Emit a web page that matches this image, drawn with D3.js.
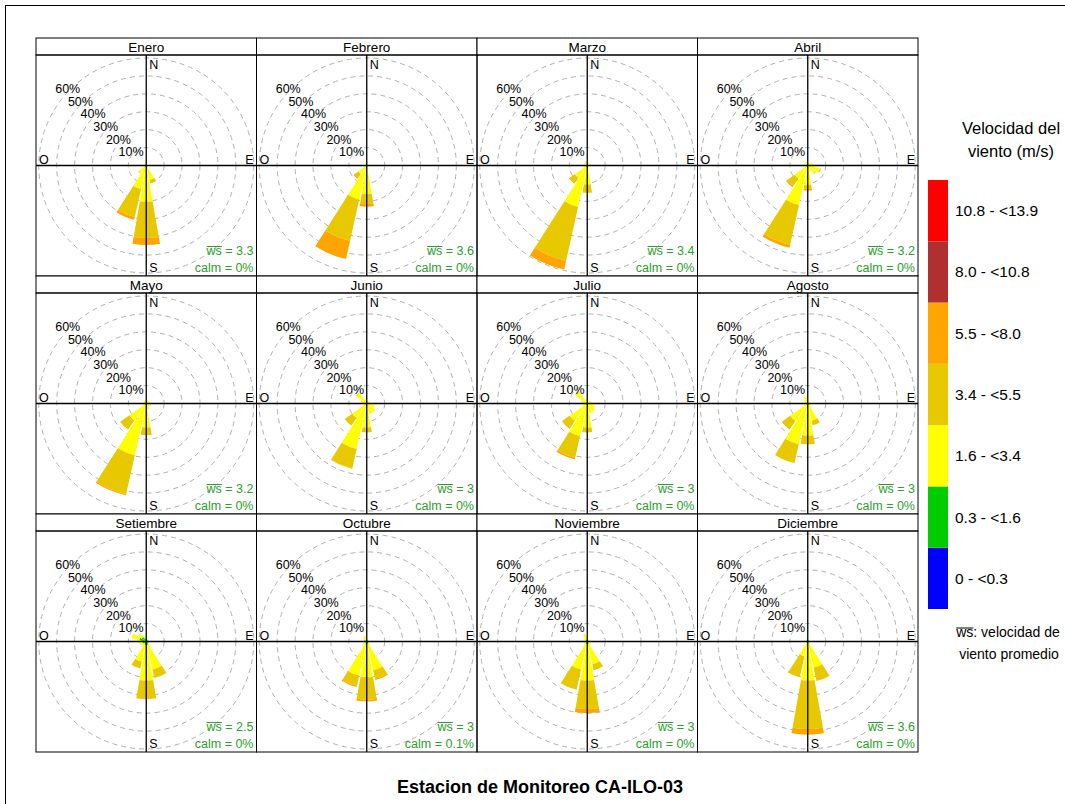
<!DOCTYPE html>
<html>
<head>
<meta charset="utf-8">
<style>
  body { margin: 0; background: #fff; }
  svg text { font-family: "Liberation Sans", Arial, sans-serif; }
</style>
<script src="https://d3js.org/d3.v7.min.js"></script>
</head>
<body>
<script>
const months = ["Enero", "Febrero", "Marzo", "Abril", "Mayo", "Junio",
                "Julio", "Agosto", "Setiembre", "Octubre", "Noviembre", "Diciembre"];
const directions = ["N","NNE","NE","ENE","E","ESE","SE","SSE","S","SSW","SW","WSW","W","WNW","NW","NNW"];
const speedBins = ["0 - <0.3", "0.3 - <1.6", "1.6 - <3.4", "3.4 - <5.5", "5.5 - <8.0", "8.0 - <10.8", "10.8 - <13.9"];
const binColors = ["#0000ff", "#00cc00", "#ffff00", "#e8c800", "#ffa500", "#b03030", "#ff0000"];
const wsMean = ["3.3", "3.6", "3.4", "3.2", "3.2", "3", "3", "3", "2.5", "3", "3", "3.6"];
const calmPct = ["0%", "0%", "0%", "0%", "0%", "0%", "0%", "0%", "0%", "0.1%", "0%", "0%"];
const pctTicks = [10, 20, 30, 40, 50, 60];

// % of hours per direction (N..NNW), per speed bin (first five bins; the rest are 0)
const enero = [
  [0,0.6,0.6,0,0],[0,0.5,0.3,0,0],[0,0.4,0.2,0,0],[0,0.3,0.2,0,0],
  [0,0.3,0.2,0,0],[0,0.4,0.3,0,0],[0,0.6,0.8,0,0],[0,0.8,7.5,1.8,0],
  [0,1,19.3,20.2,3.9],[0,1,12.5,16,1.5],[0,0.8,4.5,0.3,0],[0,0.5,0.6,0,0],
  [0,0.4,0.3,0,0],[0,0.4,0.3,0,0],[0,0.5,0.5,0,0],[0,0.6,0.8,0,0]];
const febrero = [
  [0,0.5,1.5,0,0],[0,0.4,1,0,0],[0,0.3,0.6,0,0],[0,0.3,0.5,0,0],
  [0,0.3,0.5,0,0],[0,0.3,0.6,0,0],[0,0.4,0.8,0,0],[0,0.5,1.5,0,0],
  [0,1,15,5.5,1.5],[0,1,18.4,23.6,10.5],[0,0.8,5,2.5,0.8],[0,0.5,1,0,0],
  [0,0.4,0.8,0,0],[0,0.4,0.8,0,0],[0,0.4,1,0,0],[0,0.5,1.2,0,0]];
const marzo = [
  [0,0.5,1.8,0,0],[0,0.4,1.2,0,0],[0,0.4,1,0,0],[0,0.3,0.8,0,0],
  [0,0.3,0.8,0,0],[0,0.3,1,0,0],[0,0.4,1,0,0],[0,0.5,1.5,0,0],
  [0,1,9.6,4.7,0],[0,1,22.7,30.8,5],[0,1,7.5,3.5,0.5],[0,0.5,1.5,0,0],
  [0,0.4,1.2,0,0],[0,0.4,1,0,0],[0,0.5,1.5,0,0],[0,0.5,2,0,0]];
const abril = [
  [0,0.5,1.5,0,0],[0,0.4,1.2,0,0],[0,0.4,1.5,0,0],[0,0.4,2.5,0,0],
  [0,0.4,3,0,0],[0,0.5,6.5,0.5,0],[0,0.5,5,0.3,0],[0,0.5,3,0,0],
  [0,1,10,2,1],[0,1,21.6,22.8,1.6],[0,1,8,5,0.8],[0,0.5,1.5,0,0],
  [0,0.4,1,0,0],[0,0.4,1,0,0],[0,0.5,1.2,0,0],[0,0.5,1.5,0,0]];
const mayo = [
  [0,0.5,1.2,0,0],[0,0.4,1.5,0,0],[0,0.4,1.5,0,0],[0,0.4,1.5,0,0],
  [0,0.4,1.5,0,0],[0,0.4,2.5,0,0],[0,0.4,1.5,0,0],[0,0.5,3,0,0],
  [0,1,12.4,4.3,0],[0,1,28.6,22.2,0.7],[0,1,10.5,6.3,0],[0,0.5,1.5,0,0],
  [0,0.4,1,0,0],[0,0.4,1,0,0],[0,0.5,1.2,0,0],[0,0.5,1.5,0,0]];
const junio = [
  [0,0.5,1,0,0],[0,0.4,1,0,0],[0,0.4,1.2,0,0],[0,0.4,1.5,0,0],
  [0,0.4,2,0,0],[0,0.5,4,0,0],[0,0.5,5.5,0,0],[0,0.5,5.5,0,0],
  [0,1,12.4,2.8,0],[0,1,25,11,0.3],[0,1,9,5,0],[0,0.5,1.5,0,0],
  [0,0.4,1.5,0,0],[0,0.5,3,0,0],[0,0.5,7,0,0],[0,0.5,2,0,0]];
const julio = [
  [0,0.5,1,0,0],[0,0.4,1,0,0],[0,0.4,1.5,0,0],[0,0.4,2,0,0],
  [0,0.4,2.5,0,0],[0,0.5,4,0,0],[0,0.5,5,0,0],[0,0.5,5,0,0],
  [0,1,12.5,2.7,0],[0,1,17.7,12.2,1],[0,1,11,5.3,0],[0,0.5,2,0,0],
  [0,0.4,1.5,0,0],[0,0.5,3,0,0],[0,0.5,8,0,0],[0,0.5,2,0,0]];
const agosto = [
  [0,0.8,0.8,0,0],[0,0.6,0.5,0,0],[0,0.6,0.5,0,0],[0,0.6,0.5,0,0],
  [0,0.6,0.6,0,0],[0,0.6,1,0,0],[0,0.8,2,0,0],[0,1,9,2.5,0],
  [0,1,17,4.8,0],[0,1,22.3,10.7,0],[0,1,11,5.7,0],[0,0.8,1.5,0,0],
  [0,0.6,1,0,0],[0,0.6,1,0,0],[0,0.8,2,0,0],[0,0.8,3.5,0,0]];
const setiembre = [
  [0,1.5,0.5,0,0],[0,1.2,0.3,0,0],[0,1.2,0.3,0,0],[0,1,0.3,0,0],
  [0,1,0.3,0,0],[0,1.2,0.5,0,0],[0,1.5,1,0,0],[0,2,14,4.9,0],
  [0,2,19.8,10.2,0.2],[0,2,9.5,3.9,0],[0,1.5,1.5,0,0],[0,2,2,0,0],
  [0,2.5,2,0,0],[0,4,4.4,0,0],[0,3,2.5,0,0],[0,2,1,0,0]];
const octubre = [
  [0,1,1,0,0],[0,0.8,0.5,0,0],[0,0.8,0.5,0,0],[0,0.8,0.5,0,0],
  [0,0.8,0.5,0,0],[0,0.8,0.6,0,0],[0,1,1.5,0,0],[0,1.5,15,4.8,0.7],
  [0,1.5,18.5,12.5,0.9],[0,1.5,18,5.8,0.7],[0,1,1.5,0,0],[0,0.8,1,0,0],
  [0,0.8,1,0,0],[0,0.8,1,0,0],[0,1,1.5,0,0],[0,1,2.5,0,0]];
const noviembre = [
  [0,1,1,0,0],[0,0.8,0.5,0,0],[0,0.8,0.5,0,0],[0,0.8,0.5,0,0],
  [0,0.8,0.5,0,0],[0,0.8,0.6,0,0],[0,1,1.5,0,0],[0,1.5,11.5,3.4,0],
  [0,1.5,20.3,15.9,2.3],[0,1.5,14.5,11.6,0],[0,1,1.5,0,0],[0,0.8,1,0,0],
  [0,0.8,0.8,0,0],[0,0.8,0.8,0,0],[0,1,1.5,0,0],[0,1,3.5,0,0]];
const diciembre = [
  [0,0.8,0.5,0,0],[0,0.8,0.4,0,0],[0,0.8,0.4,0,0],[0,0.6,0.3,0,0],
  [0,0.6,0.3,0,0],[0,0.6,0.4,0,0],[0,0.8,0.8,0,0],[0,1,14,7.6,0],
  [0,1,20.8,27.1,3.1],[0,1,7.4,12.1,0],[0,0.8,0.8,0,0],[0,0.6,0.4,0,0],
  [0,0.6,0.3,0,0],[0,0.6,0.3,0,0],[0,0.8,0.5,0,0],[0,0.8,0.6,0,0]];
const monthData = [enero, febrero, marzo, abril, mayo, junio,
                   julio, agosto, setiembre, octubre, noviembre, diciembre];

const W = 1065, H = 804;
const gridX = 36, gridY = 38, panelW = 220.5, stripH = 17, panelH = 221;
const green = "#2ca02c";

const svg = d3.select("body").append("svg")
  .attr("width", W).attr("height", H);

svg.append("rect").attr("x", 5.5).attr("y", 5.5)
  .attr("width", W).attr("height", H)
  .attr("fill", "none").attr("stroke", "#000");

const r = d3.scaleLinear().domain([0, 60]).range([0, 107.5]);
const sector = 360 / directions.length;
const halfWidth = 10 * Math.PI / 180;
const arc = d3.arc();

// overline over the first two characters ("ws") of a text element
function overlineWs(textSel, rise) {
  const node = textSel.node();
  const a = node.getStartPositionOfChar(0), b = node.getEndPositionOfChar(1);
  d3.select(node.parentNode).append("line")
    .attr("x1", a.x).attr("x2", b.x).attr("y1", a.y - rise).attr("y2", a.y - rise)
    .attr("stroke", textSel.attr("fill") || "#000").attr("stroke-width", 1);
}

svg.append("defs").selectAll("clipPath")
  .data(months).enter().append("clipPath")
  .attr("id", (d, i) => "clip" + i)
  .append("rect")
  .attr("x", (d, i) => gridX + (i % 4) * panelW)
  .attr("y", (d, i) => gridY + Math.floor(i / 4) * (stripH + panelH) + stripH)
  .attr("width", panelW).attr("height", panelH);

months.forEach((m, i) => {
  const x0 = gridX + (i % 4) * panelW;
  const y0 = gridY + Math.floor(i / 4) * (stripH + panelH);
  const py = y0 + stripH;
  const cx = x0 + panelW / 2, cy = py + panelH / 2;
  const g = svg.append("g");

  // strip
  g.append("rect").attr("x", x0).attr("y", y0).attr("width", panelW).attr("height", stripH)
    .attr("fill", "#fff").attr("stroke", "#000");
  g.append("text").attr("x", cx).attr("y", y0 + 13.5).attr("text-anchor", "middle")
    .attr("font-size", 13.5).text(m);

  const inner = g.append("g").attr("clip-path", "url(#clip" + i + ")");

  // grid circles
  inner.selectAll("circle").data(pctTicks).enter().append("circle")
    .attr("cx", cx).attr("cy", cy).attr("r", d => r(d))
    .attr("fill", "none").attr("stroke", "#b0b0b0").attr("stroke-dasharray", "5,4");

  // petals
  const rows = [];
  monthData[i].forEach((bins, d) => {
    let cum = 0;
    bins.forEach((v, b) => {
      if (v > 0) rows.push({ d: d, b: b, r0: cum, r1: cum + v });
      cum += v;
    });
  });
  inner.selectAll("path.petal").data(rows).enter().append("path")
    .attr("class", "petal")
    .attr("transform", `translate(${cx},${cy})`)
    .attr("d", p => {
      const a = p.d * sector * Math.PI / 180;
      return arc({ innerRadius: r(p.r0), outerRadius: r(p.r1),
                   startAngle: a - halfWidth, endAngle: a + halfWidth });
    })
    .attr("fill", p => binColors[p.b]);

  // axes
  inner.append("line").attr("x1", cx).attr("x2", cx).attr("y1", py).attr("y2", py + panelH)
    .attr("stroke", "#000").attr("stroke-width", 1.3);
  inner.append("line").attr("x1", x0).attr("x2", x0 + panelW).attr("y1", cy).attr("y2", cy)
    .attr("stroke", "#000").attr("stroke-width", 1.3);

  // percentage labels
  g.selectAll("text.pct").data(pctTicks).enter().append("text")
    .attr("class", "pct")
    .attr("x", d => cx - r(d) / Math.SQRT2 - 2.5)
    .attr("y", d => cy - r(d) / Math.SQRT2 + 3.5)
    .attr("text-anchor", "middle").attr("font-size", 12.5)
    .text(d => d + "%");

  // compass labels
  g.append("text").attr("x", cx + 3).attr("y", py + 14).attr("font-size", 12.5).text("N");
  g.append("text").attr("x", cx + 3).attr("y", py + 217).attr("font-size", 12.5).text("S");
  g.append("text").attr("x", x0 + 3).attr("y", cy - 1.5).attr("font-size", 12.5).text("O");
  g.append("text").attr("x", x0 + panelW - 3).attr("y", cy - 1.5).attr("text-anchor", "end")
    .attr("font-size", 12.5).text("E");

  // mean speed and calm
  const ws = g.append("text").attr("x", x0 + panelW - 3).attr("y", py + 199.5)
    .attr("text-anchor", "end").attr("font-size", 12.5).attr("fill", green)
    .text("ws = " + wsMean[i]);
  overlineWs(ws, 8);
  g.append("text").attr("x", x0 + panelW - 3).attr("y", py + 216.5)
    .attr("text-anchor", "end").attr("font-size", 12.5).attr("fill", green)
    .text("calm = " + calmPct[i]);

  // panel border
  g.append("rect").attr("x", x0).attr("y", py).attr("width", panelW).attr("height", panelH)
    .attr("fill", "none").attr("stroke", "#000");
});

// legend
const legTop = 180, legBottom = 609;
const ly = d3.scaleBand().domain(d3.range(speedBins.length).reverse())
  .range([legTop, legBottom]);
const leg = svg.append("g");
leg.selectAll("rect").data(speedBins).enter().append("rect")
  .attr("x", 928).attr("width", 20)
  .attr("y", (d, i) => ly(i)).attr("height", ly.bandwidth())
  .attr("fill", (d, i) => binColors[i]);
leg.selectAll("text.lab").data(speedBins).enter().append("text")
  .attr("class", "lab")
  .attr("x", 955).attr("y", (d, i) => ly(i) + ly.bandwidth() / 2 + 5.5)
  .attr("font-size", 15.5).text(d => d);
leg.append("text").attr("x", 1011).attr("y", 134).attr("text-anchor", "middle")
  .attr("font-size", 16.5).text("Velocidad del");
leg.append("text").attr("x", 1011).attr("y", 157).attr("text-anchor", "middle")
  .attr("font-size", 16.5).text("viento (m/s)");
const note = leg.append("text").attr("x", 1008).attr("y", 637).attr("text-anchor", "middle")
  .attr("font-size", 14).text("ws: velocidad de");
overlineWs(note, 9);
leg.append("text").attr("x", 1009).attr("y", 659).attr("text-anchor", "middle")
  .attr("font-size", 14).text("viento promedio");

svg.append("text").attr("x", 540).attr("y", 793).attr("text-anchor", "middle")
  .attr("font-size", 18).attr("font-weight", "bold")
  .text("Estacion de Monitoreo CA-ILO-03");
</script>
</body>
</html>
